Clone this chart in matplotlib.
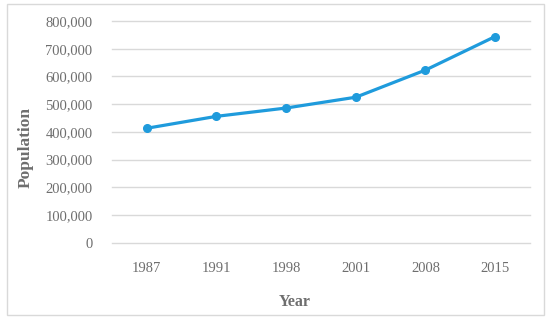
import matplotlib
matplotlib.use("Agg")
import matplotlib.pyplot as plt
from matplotlib.ticker import FuncFormatter
from matplotlib.patches import Rectangle

# data
years = ["1987", "1991", "1998", "2001", "2008", "2015"]
population = [413000, 456000, 486000, 525000, 623000, 744000]
yticks = [0, 100000, 200000, 300000, 400000, 500000, 600000, 700000, 800000]

plt.rcParams['font.family'] = ['Liberation Serif', 'DejaVu Serif']
grey = '#6e6e6e'

fig = plt.figure(figsize=(5.5, 3.24), dpi=100)
ax = fig.add_axes([112/550, 1 - 242.7/324, 418/550, 221.7/324])

x = range(len(years))
ax.plot(x, population, color='#1f9bdc', lw=2.3, marker='o', ms=5.5,
        solid_capstyle='round', zorder=3)

ax.set_xlim(-0.5, len(years) - 0.5)
ax.set_ylim(0, 800000)
ax.set_yticks(yticks)
ax.yaxis.set_major_formatter(FuncFormatter(lambda v, p: f"{int(v):,}"))
ax.set_xticks(list(x))
ax.set_xticklabels(years)

ax.grid(axis='y', color='#d9d9d9', lw=1)
for gl in ax.get_ygridlines():
    gl.set_clip_on(False)
ax.set_axisbelow(True)
for s in ax.spines.values():
    s.set_visible(False)
ax.tick_params(length=0, labelsize=10.5, colors=grey, pad=14)
ax.tick_params(axis='x', pad=14)

fig.text(295/550, 1 - 302/324, "Year", ha='center', va='center',
         fontsize=11.5, fontweight='bold', color=grey)
fig.text(26/550, 1 - 148/324, "Population", ha='center', va='center',
         rotation=90, fontsize=12.5, fontweight='bold', color=grey)

# light frame around the chart area
fig.patches.append(Rectangle((7/550, 1 - 315/324), 537/550, 311/324,
                             transform=fig.transFigure, fill=False,
                             ec='#d9d9d9', lw=1))

fig.savefig("out.png", dpi=100)
